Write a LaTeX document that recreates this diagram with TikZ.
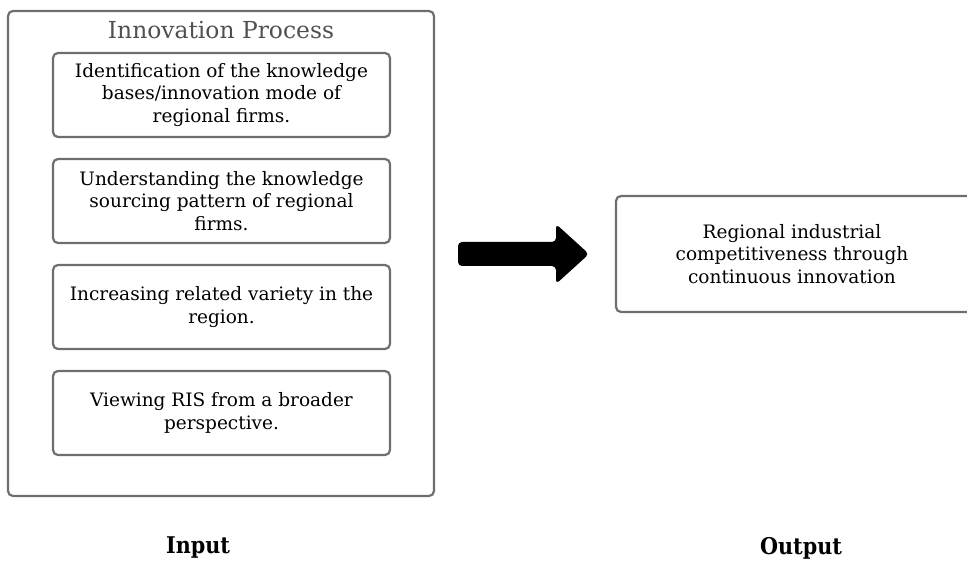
\documentclass[tikz,border=0pt]{standalone}
\usepackage{fontspec}
\setmainfont{DejaVu Serif}
\newfontfamily\labelfont{DejaVu Serif Condensed}
\usetikzlibrary{positioning}
\definecolor{boxgray}{HTML}{6E6E6E}
\definecolor{titlegray}{HTML}{505050}
\tikzset{
  framebox/.style={draw=boxgray, line width=2.2pt, rounded corners=5pt},
  stagetext/.style={align=center, inner sep=0pt, font=\fontsize{18.5}{22.5}\selectfont},
  stagebox/.style={framebox, stagetext, minimum width=337pt, minimum height=84pt},
  sidelabel/.style={font=\labelfont\bfseries\fontsize{23}{25}\selectfont}
}
\begin{document}
\begin{tikzpicture}[x=1pt,y=-1pt]
  \clip (0,0) rectangle (967,564);
  % Outer frame of the process
  \node[framebox, minimum width=426pt, minimum height=485pt] (process) at (221,253.5) {};
  \node[text=titlegray, font=\fontsize{23.4}{26}\selectfont] (title) at (221,30) {Innovation Process};
  % Stages inside the frame
  \node[stagebox] (stage1) at (221.5,95) {Identification of the knowledge\\ bases/innovation mode of\\ regional firms.};
  \node[stagebox] (stage2) at (221.5,201) {Understanding the knowledge\\ sourcing pattern of regional\\ firms.};
  \node[stagebox] (stage3) at (221.5,307) {Increasing related variety in the\\ region.};
  \node[stagebox] (stage4) at (221.5,413) {Viewing RIS from a broader\\ perspective.};
  % Block arrow
  \fill[black, rounded corners=4pt] (458,242) -- (556,242) -- (556,224) -- (589,254)
    -- (556,284) -- (556,266) -- (458,266) -- cycle;
  % Output box (runs past the right edge)
  \node[stagetext] (result) at (792,254)
    {Regional industrial\\ competitiveness through\\ continuous innovation};
  \draw[framebox] (980,196) -- (616,196) -- (616,312) -- (980,312);
  % Bottom labels
  \node[sidelabel] (inlabel) at (198,548) {Input};
  \node[sidelabel] (outlabel) at (801,548) {Output};
\end{tikzpicture}
\end{document}
